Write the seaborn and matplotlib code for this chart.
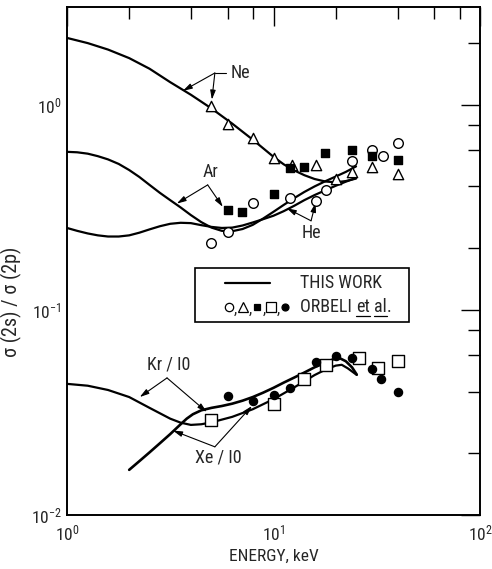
import numpy as np
import pandas as pd
import matplotlib
matplotlib.use("Agg")
import matplotlib.pyplot as plt
from matplotlib import font_manager
from matplotlib.ticker import LogLocator, NullFormatter
from matplotlib.patches import Rectangle
import seaborn as sns

# ---------------- data ----------------
# theory curves ("THIS WORK")
E_ne = [1, 1.26, 1.58, 2.0, 2.51, 3.16, 3.98, 5.01, 6.31, 7.94, 10, 11.2, 12.6, 14.1, 15.8, 17.8, 20, 22.4, 25.1]
s_ne = [2.12, 2.00, 1.86, 1.69, 1.50, 1.29, 1.12, 0.96, 0.81, 0.676, 0.558, 0.513, 0.479, 0.454, 0.435, 0.423, 0.419, 0.425, 0.437]

E_ar = [1, 1.12, 1.26, 1.41, 1.58, 1.78, 2.0, 2.24, 2.51, 2.82, 3.16, 3.55, 3.98, 4.47, 5.01, 5.62, 6.31, 7.08,
        7.94, 8.91, 10, 11.2, 12.6, 14.1, 15.8, 17.8, 20, 22.4, 25.1]
s_ar = [0.590, 0.587, 0.578, 0.562, 0.542, 0.515, 0.481, 0.445, 0.407, 0.372, 0.343, 0.316, 0.290, 0.268,
        0.252, 0.243, 0.242, 0.248, 0.260, 0.279, 0.301, 0.325, 0.351, 0.376, 0.400, 0.424, 0.447, 0.471, 0.501]

E_he = [1, 1.12, 1.26, 1.41, 1.58, 1.78, 2.0, 2.24, 2.51, 2.82, 3.16, 3.55, 3.98, 4.47, 5.01, 5.62, 6.31, 7.08,
        7.94, 8.91, 10, 11.2, 12.6, 14.1, 15.8, 17.8, 20, 22.4, 25.1]
s_he = [0.251, 0.243, 0.236, 0.231, 0.228, 0.228, 0.231, 0.238, 0.247, 0.256, 0.263, 0.266, 0.265, 0.259,
        0.254, 0.251, 0.252, 0.258, 0.267, 0.277, 0.288, 0.303, 0.322, 0.343, 0.363, 0.383, 0.403, 0.422, 0.440]

E_kr = [1, 1.26, 1.58, 2.0, 2.51, 3.16, 3.55, 3.98, 4.47, 5.01, 6.31, 7.94, 10, 12.6, 15.8, 17.8, 20, 21.4, 22.9, 25.3]
s_kr = [0.0436, 0.0427, 0.0407, 0.0376, 0.0333, 0.0295, 0.0282, 0.0275, 0.0277, 0.0283, 0.0301, 0.0328,
        0.0367, 0.0419, 0.0481, 0.0511, 0.0535, 0.0540, 0.0519, 0.0482]

E_xe = [2.0, 2.24, 2.51, 2.82, 3.16, 3.55, 3.80, 4.07, 4.47, 5.01, 5.62, 6.31, 7.08, 7.94, 8.91, 10, 11.2,
        12.6, 14.1, 15.8, 17.8, 19.5, 20.9, 22.4, 24.0, 25.3]
s_xe = [0.0166, 0.0183, 0.0202, 0.0224, 0.0248, 0.0277, 0.0295, 0.0310, 0.0324, 0.0333, 0.0340, 0.0349,
        0.0361, 0.0376, 0.0395, 0.0417, 0.0442, 0.0468, 0.0495, 0.0525, 0.0553, 0.0575, 0.0582, 0.0562,
        0.0525, 0.0484]

# measurements (ORBELI et al.)
E_he_pts = [5, 6, 8, 12, 16, 18, 24, 30, 34, 40]
s_he_pts = [0.212, 0.24, 0.333, 0.35, 0.34, 0.385, 0.53, 0.60, 0.56, 0.65]

E_ne_pts = [5, 6, 8, 10, 12.3, 16, 20, 24, 30, 40]
s_ne_pts = [0.99, 0.81, 0.69, 0.55, 0.51, 0.51, 0.435, 0.47, 0.50, 0.46]

E_ar_pts = [6, 7, 10, 12, 14, 17.7, 24, 30, 40]
s_ar_pts = [0.307, 0.30, 0.368, 0.49, 0.50, 0.58, 0.60, 0.56, 0.54]

E_kr_pts = [5, 10, 14, 18, 26, 32, 40]
s_kr_pts = [0.029, 0.0348, 0.046, 0.054, 0.0583, 0.052, 0.0564]

E_xe_pts = [6, 8, 10, 12, 16, 20, 24, 30, 33, 40]
s_xe_pts = [0.038, 0.036, 0.0385, 0.0417, 0.0557, 0.0597, 0.0583, 0.0515, 0.046, 0.0398]

# labels
x_label = "ENERGY, keV"
y_label = "σ (2s) / σ (2p)"
legend_line_label = "THIS WORK"

# ---------------- style ----------------
sns.set_style("white")

avail = {f.name for f in font_manager.fontManager.ttflist}
cond = {f.name for f in font_manager.fontManager.ttflist
        if str(f.stretch) in ("condensed", "semi-condensed", "extra-condensed", "600", "500")}
MAIN = None
STRETCH = "normal"
for cand in ["Liberation Sans Narrow", "Roboto Condensed", "Open Sans Condensed",
             "Noto Sans Condensed", "Arial Narrow"]:
    if cand in avail:
        MAIN = cand
        break
if MAIN is None:
    if "DejaVu Sans" in cond:
        MAIN, STRETCH = "DejaVu Sans", "condensed"
    else:
        MAIN = "Liberation Sans" if "Liberation Sans" in avail else "DejaVu Sans"
FONT = [MAIN, "DejaVu Sans"]
plt.rcParams["font.family"] = FONT
plt.rcParams["font.stretch"] = STRETCH
plt.rcParams["mathtext.default"] = "regular"

fig = plt.figure(figsize=(4.92, 5.69), dpi=100)
ax = fig.add_axes([0.1362, 0.0949, 0.8394, 0.8928])

# curves
curves = pd.concat([
    pd.DataFrame({"E": E, "sigma": s, "series": name})
    for name, E, s in [("Ne", E_ne, s_ne), ("Ar", E_ar, s_ar), ("He", E_he, s_he),
                       ("Kr", E_kr, s_kr), ("Xe", E_xe, s_xe)]
], ignore_index=True)

for name, grp in curves.groupby("series", sort=False):
    sns.lineplot(data=grp, x="E", y="sigma", ax=ax, color="black",
                 lw=1.9 if name == "Xe" else 1.6, sort=False, estimator=None,
                 legend=False)

# points
pts = [
    (E_he_pts, s_he_pts, "o", "white", 48),
    (E_ne_pts, s_ne_pts, "^", "white", 55),
    (E_ar_pts, s_ar_pts, "s", "black", 28),
    (E_kr_pts, s_kr_pts, "s", "white", 70),
    (E_xe_pts, s_xe_pts, "o", "black", 34),
]
for E, s, m, fc, size in pts:
    sns.scatterplot(x=E, y=s, ax=ax, marker=m, s=size, facecolor=fc,
                    edgecolor="black", linewidth=1.0, zorder=5, legend=False)

ax.set_xscale("log")
ax.set_yscale("log")
ax.set_xlim(1, 100)
ax.set_ylim(0.01, 3.0)

ax.xaxis.set_major_locator(LogLocator(base=10, numticks=10))
ax.yaxis.set_major_locator(LogLocator(base=10, numticks=10))
ax.xaxis.set_minor_locator(LogLocator(base=10, subs=[2, 4, 6, 8], numticks=10))
ax.yaxis.set_minor_locator(LogLocator(base=10, subs=[2, 4, 6, 8], numticks=10))
ax.xaxis.set_minor_formatter(NullFormatter())
ax.yaxis.set_minor_formatter(NullFormatter())

ax.tick_params(which="both", direction="in", top=True, right=True,
               color="black", labelsize=12.5)
ax.tick_params(which="major", length=14, width=1.0)
ax.tick_params(axis="x", which="major", pad=6)
ax.tick_params(axis="y", which="major", pad=4)
ax.tick_params(which="minor", length=8.5, width=1.0)
for sp in ax.spines.values():
    sp.set_linewidth(1.4)
    sp.set_color("black")

ax.set_xlabel(x_label, fontsize=12.5, labelpad=4)
ax.set_ylabel(y_label, fontsize=14.5)
ax.yaxis.set_label_coords(-0.108, 0.42)

# ---------------- annotations ----------------
arrow_kw = dict(arrowstyle="-|>,head_length=0.55,head_width=0.16", lw=0.8,
                color="black", shrinkA=0, shrinkB=0, mutation_scale=10)
# (text, text position, junction, list of arrow tips)
annots = [
    ("Ne", (6.9, 1.43), (5.2, 1.43), [(3.64, 1.17), (5.03, 1.06)]),
    ("Ar", (4.97, 0.47), (4.8, 0.407), [(3.4, 0.33), (5.68, 0.318)]),
    ("He", (15.3, 0.237), (15.2, 0.272), [(11.6, 0.313), (16.0, 0.333)]),
    ("Kr / I0", (3.1, 0.054), (3.05, 0.0466), [(2.25, 0.0376), (4.75, 0.0318)]),
    ("Xe / I0", (5.4, 0.019), (5.2, 0.0215), [(3.26, 0.0258), (7.86, 0.034)]),
]
for txt, tpos, junc, tips in annots:
    ax.text(*tpos, txt, fontsize=13, ha="center", va="center")
    for tip in tips:
        ax.annotate("", xy=tip, xytext=junc, arrowprops=arrow_kw)
# Ne leader stub from label to junction
ax.plot([5.2, 5.9], [1.43, 1.43], color="black", lw=0.8)

# ---------------- legend box ----------------
ax.add_patch(Rectangle((0.310, 0.380), 0.518, 0.106, transform=ax.transAxes,
                       fill=False, lw=1.2, ec="black", zorder=6))
ax.plot([0.383, 0.492], [0.457, 0.457], transform=ax.transAxes, color="black",
        lw=1.6, zorder=6)
ax.text(0.564, 0.457, legend_line_label, transform=ax.transAxes, fontsize=13,
        va="center", ha="left")

# marker row: ○,△,■,□,●
leg_markers = [("o", "white", 6.0), ("^", "white", 6.5), ("s", "black", 4.8),
               ("s", "white", 6.5), ("o", "black", 5.0)]
mx = 0.392
for i, (m, fc, ms) in enumerate(leg_markers):
    ax.plot([mx], [0.409], transform=ax.transAxes, marker=m, ms=ms, mfc=fc,
            mec="black", mew=0.9, ls="none", zorder=7, clip_on=False)
    if i < len(leg_markers) - 1:
        ax.text(mx + 0.017, 0.404, ",", transform=ax.transAxes, fontsize=12,
                ha="center", va="center")
    mx += 0.034

fig.canvas.draw()
renderer = fig.canvas.get_renderer()
inv = ax.transAxes.inverted()
x0 = 0.564
pieces = [("ORBELI ", False), ("et", True), (" ", False), ("al", True), (".", False)]
for piece, ul in pieces:
    t = ax.text(x0, 0.409, piece, transform=ax.transAxes, fontsize=13,
                va="center", ha="left")
    bb = t.get_window_extent(renderer)
    (bx0, by0), (bx1, by1) = inv.transform([[bb.x0, bb.y0], [bb.x1, bb.y1]])
    if ul:
        ax.plot([bx0, bx1], [by0 + 0.001, by0 + 0.001], transform=ax.transAxes,
                color="black", lw=0.9)
    x0 = bx1

fig.savefig("out.png", dpi=100)
